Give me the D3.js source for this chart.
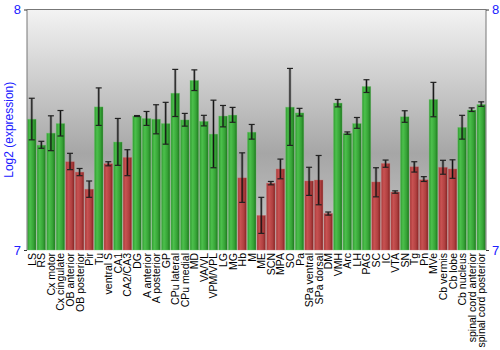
<!DOCTYPE html>
<html><head><meta charset="utf-8">
<script src="https://cdn.jsdelivr.net/npm/d3@7"></script>
<style>html,body{margin:0;padding:0;background:#fff;}svg{display:block;}</style>
</head><body><div id="chart"></div>
<script>
const categories = ["LS","RS","Cx motor","Cx cingulate","OB anterior","OB posterior","Pir","Tu","ventral S","CA1","CA2/CA3","DG","A anterior","A posterior","GP","CPu lateral","CPu medial","MD","VA/VL","VPM/VPL","LG","MG","Hb","M","ME","SCN","MPA","SO","Pa","SPa ventral","SPa dorsal","DM","VMH","Arc","LH","PAG","SC","IC","VTA","SN","Tg","Pn","MVe","Cb vermis","Cb lobe","Cb nucleus","spinal cord anterior","spinal cord posterior"];
const values = [7.544,7.436,7.486,7.526,7.367,7.324,7.253,7.595,7.359,7.449,7.385,7.557,7.547,7.544,7.526,7.652,7.541,7.705,7.535,7.482,7.557,7.561,7.300,7.490,7.144,7.278,7.337,7.594,7.570,7.287,7.291,7.152,7.611,7.485,7.526,7.680,7.283,7.360,7.241,7.554,7.346,7.292,7.626,7.344,7.337,7.510,7.582,7.605];
const errHigh = [7.631,7.452,7.558,7.580,7.402,7.339,7.287,7.674,7.367,7.547,7.417,7.559,7.576,7.604,7.614,7.751,7.568,7.749,7.560,7.623,7.601,7.593,7.404,7.522,7.219,7.285,7.378,7.755,7.589,7.344,7.393,7.158,7.626,7.491,7.551,7.708,7.342,7.374,7.246,7.579,7.367,7.305,7.697,7.373,7.375,7.560,7.591,7.616];
const errLow = [7.458,7.423,7.413,7.474,7.334,7.309,7.219,7.518,7.350,7.352,7.309,7.555,7.518,7.483,7.440,7.555,7.515,7.663,7.516,7.342,7.512,7.531,7.198,7.461,7.069,7.271,7.296,7.435,7.557,7.227,7.188,7.145,7.595,7.481,7.506,7.655,7.221,7.344,7.236,7.531,7.324,7.285,7.554,7.315,7.298,7.461,7.576,7.597];
const up = ["g","g","g","g","r","r","r","g","r","g","r","g","g","g","g","g","g","g","g","g","g","g","r","g","r","r","r","g","g","r","r","r","g","g","g","g","r","r","r","g","r","r","g","r","r","g","g","g"];
const yTicks = [7, 8];

const W = 500, H = 350;
const mLeft = 27, mRight = 486, mTop = 9.5, mBottom = 250;
const svg = d3.select("#chart").append("svg").attr("width", W).attr("height", H);
const defs = svg.append("defs");

const bg = defs.append("linearGradient").attr("id","bg").attr("x1",0).attr("y1",0).attr("x2",0).attr("y2",1);
[[0,"#f3f3f3"],[0.6,"#a6a6a6"],[1,"#c8c8c8"]].forEach(([o,c])=>bg.append("stop").attr("offset",o).attr("stop-color",c));

function barGrad(id, stops){
  const g = defs.append("linearGradient").attr("id",id).attr("x1",0).attr("y1",0).attr("x2",1).attr("y2",0);
  stops.forEach(([o,c])=>g.append("stop").attr("offset",o).attr("stop-color",c));
}
barGrad("gg", [[0,"#2f9a2f"],[0.3,"#4cc04c"],[0.7,"#36a336"],[1,"#1d761d"]]);
barGrad("gr", [[0,"#a83838"],[0.3,"#c85252"],[0.7,"#b04040"],[1,"#842222"]]);

const x = d3.scaleBand().domain(categories).range([mLeft, mRight]).paddingInner(0.1).paddingOuter(0.05);
const y = d3.scaleLinear().domain([7, 8]).range([mBottom, mTop]);

svg.append("rect").attr("x", mLeft).attr("y", mTop).attr("width", mRight-mLeft).attr("height", mBottom-mTop).attr("fill","url(#bg)");

const data = categories.map((c,i)=>({c, v: values[i], hi: errHigh[i], lo: errLow[i], t: up[i]}));

svg.selectAll("rect.bar").data(data).join("rect").attr("class","bar")
  .attr("x", d=>x(d.c)).attr("width", x.bandwidth())
  .attr("y", d=>y(d.v)).attr("height", d=>y(7)-y(d.v))
  .attr("fill", d=> d.t==="g" ? "url(#gg)" : "url(#gr)")
  .attr("stroke", d=> d.t==="g" ? "rgba(120,200,120,0.6)" : "rgba(200,120,120,0.6)").attr("stroke-width",0.6);

const eb = svg.selectAll("g.err").data(data).join("g").attr("class","err");
const cx = d=>x(d.c)+x.bandwidth()/2;
eb.append("line").attr("x1",cx).attr("x2",cx).attr("y1",d=>y(d.hi)).attr("y2",d=>y(d.lo))
  .attr("stroke","rgba(0,0,0,0.3)").attr("stroke-width",2.6);
eb.append("line").attr("x1",cx).attr("x2",cx).attr("y1",d=>y(d.hi)).attr("y2",d=>y(d.lo))
  .attr("stroke","#111").attr("stroke-width",1);
["hi","lo"].forEach(k=>{
  eb.append("line").attr("x1",d=>cx(d)-3).attr("x2",d=>cx(d)+3).attr("y1",d=>y(d[k])).attr("y2",d=>y(d[k]))
    .attr("stroke","#222").attr("stroke-width",1.2);
});

svg.append("line").attr("x1",mLeft).attr("x2",mRight).attr("y1",mTop).attr("y2",mTop).attr("stroke","#777").attr("stroke-width",1);
svg.append("line").attr("x1",mLeft).attr("x2",mLeft).attr("y1",mTop).attr("y2",mBottom).attr("stroke","#777").attr("stroke-width",1);
svg.append("line").attr("x1",mRight).attr("x2",mRight).attr("y1",mTop).attr("y2",mBottom).attr("stroke","#777").attr("stroke-width",1);

const yl = d3.axisLeft(y).tickValues(yTicks).tickSize(3).tickFormat(d3.format("d"));
const gl = svg.append("g").attr("transform",`translate(${mLeft},0)`).call(yl);
const yr = d3.axisRight(y).tickValues(yTicks).tickSize(3).tickFormat(d3.format("d"));
const gr = svg.append("g").attr("transform",`translate(${mRight},0)`).call(yr);
[gl,gr].forEach(g=>{
  g.select(".domain").remove();
  g.selectAll(".tick line").attr("stroke","#333");
  g.selectAll(".tick text").attr("fill","#2020ff").style("font-family","Liberation Sans, Arial, sans-serif").style("font-size","13px");
});

svg.append("text").attr("transform",`translate(13,${(mTop+mBottom)/2}) rotate(-90)`)
  .attr("text-anchor","middle").attr("fill","#2020ff")
  .style("font-family","Liberation Sans, Arial, sans-serif").style("font-size","12px")
  .text("Log2 (expression)");

svg.selectAll("text.xl").data(categories).join("text").attr("class","xl")
  .attr("transform", d=>`translate(${x(d)+x.bandwidth()/2+4},${mBottom+3}) rotate(-90)`)
  .attr("text-anchor","end").attr("fill","#000")
  .style("font-family","Liberation Sans, Arial, sans-serif").style("font-size","10.5px")
  .text(d=>d);
</script></body></html>
